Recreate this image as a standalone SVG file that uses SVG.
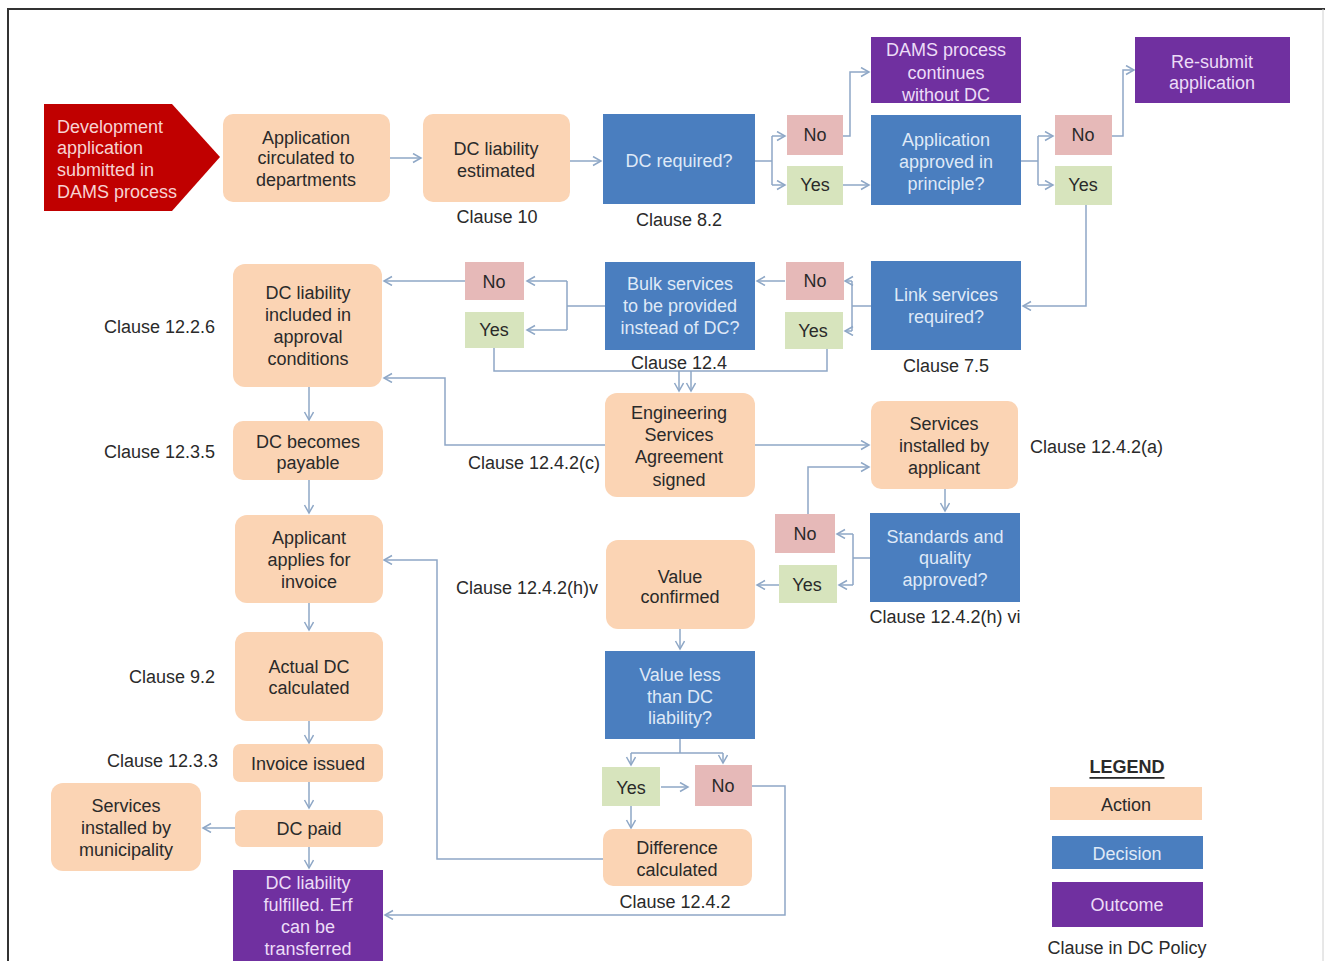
<svg xmlns="http://www.w3.org/2000/svg" width="1325" height="961" viewBox="0 0 1325 961">
<style>
.t{font-family:"Liberation Sans",Arial,sans-serif;font-size:18px;text-anchor:middle;dominant-baseline:central;fill:#2a2a2a}
.tl{fill:#dfe9f7}
.tp{fill:#ecdcf7}
.tr{fill:#f7d2d2;text-anchor:start}
.c{font-family:"Liberation Sans",Arial,sans-serif;font-size:18px;dominant-baseline:central;fill:#2a2a2a}
.act{fill:#fbd4b4}
.dec{fill:#4a7ebf}
.out{fill:#7030a0}
.no{fill:#e6b9b8}
.yes{fill:#d7e4bd}
.red{fill:#c00000}
.e{fill:none;stroke:#8ea7c6;stroke-width:1.5}
.a{marker-end:url(#arr)}
</style>
<defs>
<marker id="arr" markerUnits="userSpaceOnUse" markerWidth="12" markerHeight="12" refX="9" refY="5" orient="auto">
<path d="M1,0.5 L9,5 L1,9.5" fill="none" stroke="#8ea7c6" stroke-width="1.5"/>
</marker>
</defs>
<rect width="1325" height="961" fill="#fff"/>
<path d="M8,961 V9 H1325" fill="none" stroke="#333" stroke-width="2"/>
<path d="M1323,9 V961" fill="none" stroke="#d0d0d0" stroke-width="1"/>

<g id="connectors">
<path class="e a" d="M390,158 H421"/>
<path class="e a" d="M570,161 H601"/>
<path class="e" d="M755,161 H772 M772,136 V185"/>
<path class="e a" d="M772,136 H785"/>
<path class="e a" d="M772,185 H785"/>
<path class="e a" d="M843,136 H850 V72 H869"/>
<path class="e a" d="M843,185 H869"/>
<path class="e" d="M1021,161 H1038 M1038,136 V185"/>
<path class="e a" d="M1038,136 H1053"/>
<path class="e a" d="M1038,185 H1053"/>
<path class="e a" d="M1112,136 H1123 V70 H1134"/>
<path class="e a" d="M1086,204 V306 H1023"/>
<path class="e" d="M872,306 H852 M852,281 V331"/>
<path class="e a" d="M852,281 H845"/>
<path class="e a" d="M852,331 H845"/>
<path class="e a" d="M785,281 H757"/>
<path class="e" d="M605,306 H567 M567,281 V330"/>
<path class="e a" d="M567,281 H527"/>
<path class="e a" d="M567,330 H527"/>
<path class="e a" d="M465,281 H384"/>
<path class="e" d="M494,348 V371 H827 V348"/>
<path class="e a" d="M679,371 V391"/>
<path class="e a" d="M691,371 V391"/>
<path class="e a" d="M605,445 H445 V378 H384"/>
<path class="e a" d="M755,445 H869"/>
<path class="e a" d="M808,514 V467 H869"/>
<path class="e a" d="M945,489 V511"/>
<path class="e" d="M870,558 H853 M853,534 V585"/>
<path class="e a" d="M853,534 H837"/>
<path class="e a" d="M853,585 H839"/>
<path class="e a" d="M779,585 H757"/>
<path class="e a" d="M680,628 V649"/>
<path class="e" d="M680,739 V753 M631,753 H723"/>
<path class="e a" d="M631,753 V765"/>
<path class="e a" d="M723,753 V763"/>
<path class="e a" d="M661,787 H688"/>
<path class="e a" d="M631,806 V828"/>
<path class="e a" d="M752,786 H785 V915 H385"/>
<path class="e a" d="M603,859 H437 V560 H384"/>
<path class="e a" d="M309,387 V420"/>
<path class="e a" d="M309,480 V513"/>
<path class="e a" d="M309,603 V630"/>
<path class="e a" d="M309,721 V743"/>
<path class="e a" d="M309,782 V808"/>
<path class="e a" d="M235,828 H203"/>
<path class="e a" d="M309,847 V868"/>
</g>

<g id="n-start">
<path class="red" d="M44,104 H172 L220,157 L172,211 H44 Z"/>
<text class="t tr" x="57" y="127">Development</text>
<text class="t tr" x="57" y="148">application</text>
<text class="t tr" x="57" y="170">submitted in</text>
<text class="t tr" x="57" y="192">DAMS process</text>
</g>
<g id="n-circulated">
<rect class="act" x="223" y="114" width="167" height="88" rx="10"/>
<text class="t" x="306" y="138">Application</text>
<text class="t" x="306" y="158">circulated to</text>
<text class="t" x="306" y="180">departments</text>
</g>
<g id="n-estimated">
<rect class="act" x="423" y="114" width="147" height="88" rx="10"/>
<text class="t" x="496" y="149">DC liability</text>
<text class="t" x="496" y="171">estimated</text>
<text class="c" x="497" y="217" text-anchor="middle">Clause 10</text>
</g>
<g id="n-dcreq">
<rect class="dec" x="603" y="114" width="152" height="90"/>
<text class="t tl" x="679" y="161">DC required?</text>
<text class="c" x="679" y="220" text-anchor="middle">Clause 8.2</text>
</g>
<g id="n-no1">
<rect class="no" x="787" y="115" width="56" height="40"/>
<text class="t" x="815" y="135">No</text>
</g>
<g id="n-yes1">
<rect class="yes" x="787" y="166" width="56" height="39"/>
<text class="t" x="815" y="185">Yes</text>
</g>
<g id="n-dams">
<rect class="out" x="871" y="37" width="150" height="66"/>
<text class="t tp" x="946" y="50">DAMS process</text>
<text class="t tp" x="946" y="73">continues</text>
<text class="t tp" x="946" y="95">without DC</text>
</g>
<g id="n-approved">
<rect class="dec" x="871" y="115" width="150" height="90"/>
<text class="t tl" x="946" y="140">Application</text>
<text class="t tl" x="946" y="162">approved in</text>
<text class="t tl" x="946" y="184">principle?</text>
</g>
<g id="n-no2">
<rect class="no" x="1055" y="115" width="57" height="40"/>
<text class="t" x="1083" y="135">No</text>
</g>
<g id="n-yes2">
<rect class="yes" x="1055" y="166" width="57" height="39"/>
<text class="t" x="1083" y="185">Yes</text>
</g>
<g id="n-resubmit">
<rect class="out" x="1135" y="37" width="155" height="66"/>
<text class="t tp" x="1212" y="62">Re-submit</text>
<text class="t tp" x="1212" y="83">application</text>
</g>
<g id="n-link">
<rect class="dec" x="871" y="261" width="150" height="89"/>
<text class="t tl" x="946" y="295">Link services</text>
<text class="t tl" x="946" y="317">required?</text>
<text class="c" x="946" y="366" text-anchor="middle">Clause 7.5</text>
</g>
<g id="n-no3">
<rect class="no" x="786" y="262" width="58" height="38"/>
<text class="t" x="815" y="281">No</text>
</g>
<g id="n-yes3">
<rect class="yes" x="785" y="312" width="58" height="37"/>
<text class="t" x="813" y="331">Yes</text>
</g>
<g id="n-bulk">
<rect class="dec" x="605" y="262" width="150" height="88"/>
<text class="t tl" x="680" y="284">Bulk services</text>
<text class="t tl" x="680" y="306">to be provided</text>
<text class="t tl" x="680" y="328">instead of DC?</text>
<text class="c" x="679" y="363" text-anchor="middle">Clause 12.4</text>
</g>
<g id="n-no4">
<rect class="no" x="465" y="262" width="59" height="38"/>
<text class="t" x="494" y="282">No</text>
</g>
<g id="n-yes4">
<rect class="yes" x="465" y="312" width="59" height="36"/>
<text class="t" x="494" y="330">Yes</text>
</g>
<g id="n-included">
<rect class="act" x="233" y="264" width="149" height="123" rx="12"/>
<text class="t" x="308" y="293">DC liability</text>
<text class="t" x="308" y="315">included in</text>
<text class="t" x="308" y="337">approval</text>
<text class="t" x="308" y="359">conditions</text>
<text class="c" x="215" y="327" text-anchor="end">Clause 12.2.6</text>
</g>
<g id="n-payable">
<rect class="act" x="233" y="421" width="150" height="59" rx="10"/>
<text class="t" x="308" y="442">DC becomes</text>
<text class="t" x="308" y="463">payable</text>
<text class="c" x="215" y="452" text-anchor="end">Clause 12.3.5</text>
</g>
<g id="n-esa">
<rect class="act" x="605" y="393" width="150" height="104" rx="12"/>
<text class="t" x="679" y="413">Engineering</text>
<text class="t" x="679" y="435">Services</text>
<text class="t" x="679" y="457">Agreement</text>
<text class="t" x="679" y="480">signed</text>
<text class="c" x="600" y="463" text-anchor="end">Clause 12.4.2(c)</text>
</g>
<g id="n-installed-app">
<rect class="act" x="871" y="401" width="147" height="88" rx="10"/>
<text class="t" x="944" y="424">Services</text>
<text class="t" x="944" y="446">installed by</text>
<text class="t" x="944" y="468">applicant</text>
<text class="c" x="1030" y="447">Clause 12.4.2(a)</text>
</g>
<g id="n-standards">
<rect class="dec" x="870" y="513" width="150" height="89"/>
<text class="t tl" x="945" y="537">Standards and</text>
<text class="t tl" x="945" y="558">quality</text>
<text class="t tl" x="945" y="580">approved?</text>
<text class="c" x="945" y="617" text-anchor="middle">Clause 12.4.2(h) vi</text>
</g>
<g id="n-no5">
<rect class="no" x="775" y="514" width="60" height="39"/>
<text class="t" x="805" y="534">No</text>
</g>
<g id="n-yes5">
<rect class="yes" x="779" y="565" width="58" height="38"/>
<text class="t" x="807" y="585">Yes</text>
</g>
<g id="n-value">
<rect class="act" x="606" y="540" width="149" height="89" rx="12"/>
<text class="t" x="680" y="577">Value</text>
<text class="t" x="680" y="597">confirmed</text>
<text class="c" x="598" y="588" text-anchor="end">Clause 12.4.2(h)v</text>
</g>
<g id="n-valueless">
<rect class="dec" x="605" y="651" width="150" height="88"/>
<text class="t tl" x="680" y="675">Value less</text>
<text class="t tl" x="680" y="697">than DC</text>
<text class="t tl" x="680" y="718">liability?</text>
</g>
<g id="n-yes6">
<rect class="yes" x="602" y="767" width="58" height="39"/>
<text class="t" x="631" y="788">Yes</text>
</g>
<g id="n-no6">
<rect class="no" x="695" y="765" width="57" height="41"/>
<text class="t" x="723" y="786">No</text>
</g>
<g id="n-difference">
<rect class="act" x="603" y="829" width="149" height="57" rx="10"/>
<text class="t" x="677" y="848">Difference</text>
<text class="t" x="677" y="870">calculated</text>
<text class="c" x="675" y="902" text-anchor="middle">Clause 12.4.2</text>
</g>
<g id="n-applies">
<rect class="act" x="235" y="515" width="148" height="88" rx="12"/>
<text class="t" x="309" y="538">Applicant</text>
<text class="t" x="309" y="560">applies for</text>
<text class="t" x="309" y="582">invoice</text>
</g>
<g id="n-actual">
<rect class="act" x="235" y="632" width="148" height="89" rx="12"/>
<text class="t" x="309" y="667">Actual DC</text>
<text class="t" x="309" y="688">calculated</text>
<text class="c" x="215" y="677" text-anchor="end">Clause 9.2</text>
</g>
<g id="n-invoice">
<rect class="act" x="233" y="744" width="150" height="38" rx="7"/>
<text class="t" x="308" y="764">Invoice issued</text>
<text class="c" x="218" y="761" text-anchor="end">Clause 12.3.3</text>
</g>
<g id="n-paid">
<rect class="act" x="235" y="810" width="148" height="37" rx="7"/>
<text class="t" x="309" y="829">DC paid</text>
</g>
<g id="n-municipality">
<rect class="act" x="51" y="783" width="150" height="88" rx="12"/>
<text class="t" x="126" y="806">Services</text>
<text class="t" x="126" y="828">installed by</text>
<text class="t" x="126" y="850">municipality</text>
</g>
<g id="n-fulfilled">
<rect class="out" x="233" y="870" width="150" height="95"/>
<text class="t tp" x="308" y="883">DC liability</text>
<text class="t tp" x="308" y="905">fulfilled. Erf</text>
<text class="t tp" x="308" y="927">can be</text>
<text class="t tp" x="308" y="949">transferred</text>
</g>
<g id="legend">
<text class="t" x="1127" y="767" font-weight="bold" font-size="17" text-decoration="underline">LEGEND</text>
<rect class="act" x="1050" y="787" width="152" height="33"/>
<text class="t" x="1126" y="805">Action</text>
<rect class="dec" x="1052" y="836" width="151" height="33"/>
<text class="t tl" x="1127" y="854">Decision</text>
<rect class="out" x="1052" y="882" width="151" height="45"/>
<text class="t tp" x="1127" y="905">Outcome</text>
<text class="c" x="1127" y="948" text-anchor="middle">Clause in DC Policy</text>
</g>
</svg>
